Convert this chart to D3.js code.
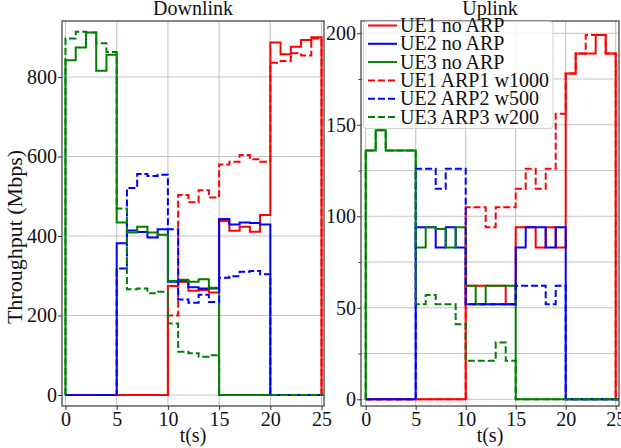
<!DOCTYPE html>
<html>
<head>
<meta charset="utf-8">
<script src="https://cdn.jsdelivr.net/npm/d3@7"></script>
<style>
  html, body { margin: 0; padding: 0; background: #fff; }
  svg { display: block; }
  svg text { font-family: "Liberation Serif", "Times New Roman", serif; fill: #111; }
</style>
</head>
<body>
<svg id="chart" width="621" height="448"></svg>
<script>
// Throughput per one-second slot (Mbps); entry i covers t in [i, i+1)
const dlUE1 = [0,0,0,0,0, 0,0,0,0,0, 274,285,262,264,258, 438,413,423,411,453, 887,857,876,893,900];
const dlUE2 = [0,0,0,0,0, 382,414,410,396,417, 285,287,271,268,268, 443,429,434,433,429, 0,0,0,0,0];
const dlUE3 = [842,874,912,816,856, 434,409,423,409,403, 287,290,285,291,270, 0,0,0,0,0, 0,0,0,0,0];
const dlUE1arp = [0,0,0,0,0, 0,0,0,0,0, 200,503,485,515,497, 580,587,604,593,587, 836,840,860,854,897];
const dlUE2arp = [0,0,0,0,0, 318,521,556,551,554, 417,240,232,252,234, 295,299,310,312,304, 0,0,0,0,0];
const dlUE3arp = [897,914,912,885,863, 469,266,268,256,260, 180,109,105,96,100, 0,0,0,0,0, 0,0,0,0,0];

const ulUE1 = [0,0,0,0,0, 0,0,0,0,0, 62,62,62,62,52, 94,94,83,94,83, 178,189,189,199,189];
const ulUE2 = [0,0,0,0,0, 94,94,83,94,83, 52,52,52,52,52, 83,94,94,83,94, 0,0,0,0,0];
const ulUE3 = [136,147,136,136,136, 83,94,93,83,94, 62,52,62,62,62, 0,0,0,0,0, 0,0,0,0,0];
const ulUE1arp = [0,0,0,0,0, 0,0,0,0,0, 105,105,94,105,105, 115,126,115,126,156, 178,189,199,199,189];
const ulUE2arp = [0,0,0,0,0, 126,126,115,126,126, 52,52,52,52,52, 62,62,62,52,62, 0,0,0,0,0];
const ulUE3arp = [136,147,136,136,136, 52,57,52,52,41, 21,21,21,31,21, 0,0,0,0,0, 0,0,0,0,0];

const seriesNames = ["UE1 no ARP", "UE2 no ARP", "UE3 no ARP", "UE1 ARP1 w1000", "UE2 ARP2 w500", "UE3 ARP3 w200"];
const xTicks = [0, 5, 10, 15, 20, 25];
const dlYTicks = [0, 200, 400, 600, 800];
const ulYTicks = [0, 50, 100, 150, 200];
const ulYMinor = [25, 75, 125, 175];

const lineColors = ["#ff0000", "#0000ff", "#008000", "#ff0000", "#0000ff", "#008000"];
const lineDashed = [false, false, false, true, true, true];

const svg = d3.select("#chart");
const FONT = 20;

function stepPoints(vals) {
  const pts = [[0, 0]];
  vals.forEach((v, i) => pts.push([i, v]));
  pts.push([vals.length, 0], [vals.length + 1, 0]);
  return pts;
}

function drawPanel(cfg) {
  const { left, right, top, bottom, xDomain, yDomain, yTicks, yMinor, data, title, id, ylabel } = cfg;
  const x = d3.scaleLinear().domain(xDomain).range([left, right]);
  const y = d3.scaleLinear().domain(yDomain).range([bottom, top]);
  const g = svg.append("g");

  g.append("clipPath").attr("id", id).append("rect")
    .attr("x", left).attr("y", top).attr("width", right - left).attr("height", bottom - top);

  // grid
  const grid = g.append("g").attr("stroke", "#c4c4c4").attr("stroke-width", 1.1);
  (yMinor || []).concat(yTicks).forEach(v => {
    grid.append("line").attr("x1", left).attr("x2", right).attr("y1", y(v)).attr("y2", y(v));
  });
  xTicks.forEach(v => {
    grid.append("line").attr("x1", x(v)).attr("x2", x(v)).attr("y1", top).attr("y2", bottom);
  });

  // series
  const line = d3.line().x(d => x(d[0])).y(d => y(d[1])).curve(d3.curveStepAfter);
  const lines = g.append("g").attr("clip-path", `url(#${id})`);
  data.forEach((vals, i) => {
    lines.append("path")
      .attr("d", line(stepPoints(vals)))
      .attr("fill", "none")
      .attr("stroke", lineColors[i])
      .attr("stroke-width", 2)
      .attr("stroke-dasharray", lineDashed[i] ? "7,3" : null);
  });

  // frame
  g.append("rect").attr("x", left).attr("y", top).attr("width", right - left).attr("height", bottom - top)
    .attr("fill", "none").attr("stroke", "#555").attr("stroke-width", 1.4);

  // axes
  const xAxis = g.append("g").attr("transform", `translate(0,${bottom})`)
    .call(d3.axisBottom(x).tickValues(xTicks).tickFormat(d3.format("d")).tickSize(4).tickPadding(2));
  const yAxis = g.append("g").attr("transform", `translate(${left},0)`)
    .call(d3.axisLeft(y).tickValues(yTicks).tickFormat(d3.format("d")).tickSize(4).tickPadding(1));
  if (yMinor) {
    g.append("g").attr("transform", `translate(${left},0)`)
      .call(d3.axisLeft(y).tickValues(yMinor).tickFormat("").tickSize(2.5))
      .call(a => a.select(".domain").remove())
      .selectAll("line").attr("stroke", "#333");
  }
  [xAxis, yAxis].forEach(a => {
    a.attr("font-family", null);
    a.select(".domain").remove();
    a.selectAll("line").attr("stroke", "#333").attr("stroke-width", 1);
    a.selectAll("text").attr("font-size", FONT).attr("fill", "#111");
  });

  g.append("text").attr("x", (left + right) / 2).attr("y", 14.5)
    .attr("text-anchor", "middle").attr("font-size", FONT).text(title);
  g.append("text").attr("x", (left + right) / 2).attr("y", 442)
    .attr("text-anchor", "middle").attr("font-size", FONT).text("t(s)");
  if (ylabel) {
    g.append("text").attr("transform", "translate(22,237) rotate(-90)")
      .attr("text-anchor", "middle").attr("font-size", 22).text(ylabel);
  }
  return { x, y, g };
}

drawPanel({
  id: "clipDL", title: "Downlink", ylabel: "Throughput (Mbps)",
  left: 62, right: 324, top: 21, bottom: 406,
  xDomain: [-0.34, 25.24], yDomain: [-27.7, 940.9],
  yTicks: dlYTicks, yMinor: null,
  data: [dlUE1, dlUE2, dlUE3, dlUE1arp, dlUE2arp, dlUE3arp]
});

drawPanel({
  id: "clipUL", title: "Uplink",
  left: 361, right: 619, top: 21, bottom: 406,
  xDomain: [-0.47, 25.33], yDomain: [-3.66, 206.7],
  yTicks: ulYTicks, yMinor: ulYMinor,
  data: [ulUE1, ulUE2, ulUE3, ulUE1arp, ulUE2arp, ulUE3arp]
});

// legend
const lg = svg.append("g");
lg.append("rect").attr("x", 363.5).attr("y", 21.5).attr("width", 189.5).attr("height", 107)
  .attr("rx", 3).attr("fill", "#fff").attr("fill-opacity", 0.8)
  .attr("stroke", "#cfcfcf").attr("stroke-width", 1);
seriesNames.forEach((name, i) => {
  const cy = 25.5 + i * 18.3;
  lg.append("line").attr("x1", 368).attr("x2", 397).attr("y1", cy).attr("y2", cy)
    .attr("stroke", lineColors[i]).attr("stroke-width", 2)
    .attr("stroke-dasharray", lineDashed[i] ? "7,3" : null);
  lg.append("text").attr("x", 400).attr("y", cy + 6.5).attr("font-size", FONT).text(name);
});
</script>
</body>
</html>
